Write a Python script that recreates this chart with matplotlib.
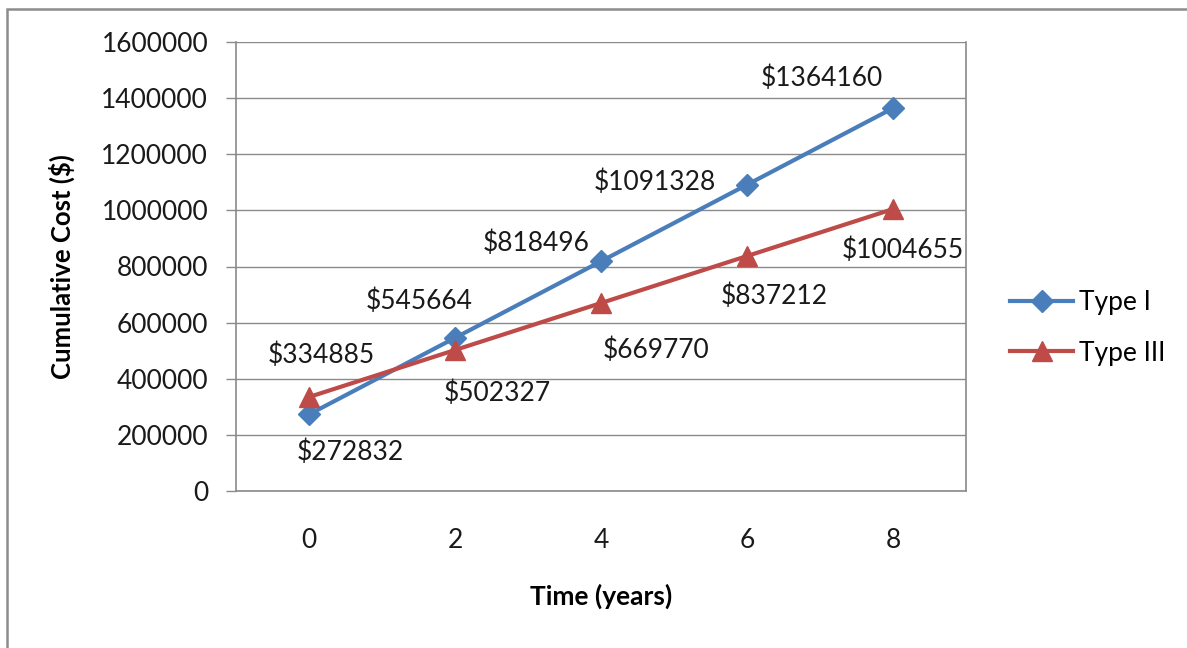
import matplotlib
matplotlib.use('Agg')
import matplotlib.pyplot as plt
from matplotlib.patches import Rectangle

plt.rcParams['font.family'] = ['Lato', 'DejaVu Sans']

# Cumulative cost data
years = [0, 2, 4, 6, 8]
type1_cost = [272832, 545664, 818496, 1091328, 1364160]
type3_cost = [334885, 502327, 669770, 837212, 1004655]
y_ticks = [0, 200000, 400000, 600000, 800000, 1000000, 1200000, 1400000, 1600000]

# label offsets (pixels) from each point
type1_off = [(41, -38), (-36, 37), (-65, 18), (-92, 2), (-71, 30)]
type3_off = [(12, 42), (42, -43), (55, -47), (27, -40), (10, -41)]

blue = '#4A7EBB'
red = '#BE4B48'
grid_col = '#8a8a8a'
fs = 19

fig = plt.figure(figsize=(11.87, 6.48), dpi=100)
ax = fig.add_axes([236/1187, 1 - 491/648, 730/1187, 449/648])

ax.plot(years, type1_cost, color=blue, lw=3, marker='D', markersize=11, label='Type I')
ax.plot(years, type3_cost, color=red, lw=3, marker='^', markersize=14, label='Type III')

for x, v, off in zip(years, type1_cost, type1_off):
    ax.annotate('$' + str(v), (x, v), xytext=off, textcoords='offset pixels',
                ha='center', va='center', fontsize=fs, color='#1a1a1a')
for x, v, off in zip(years, type3_cost, type3_off):
    ax.annotate('$' + str(v), (x, v), xytext=off, textcoords='offset pixels',
                ha='center', va='center', fontsize=fs, color='#1a1a1a')

ax.set_xlim(-1, 9)
ax.set_ylim(0, 1600000)
ax.set_xticks(years)
ax.set_yticks(y_ticks)
ax.set_yticklabels([str(t) for t in y_ticks])
ax.yaxis.grid(True, color=grid_col, lw=1)
ax.set_axisbelow(True)

ax.spines['top'].set_visible(False)
for side in ['left', 'bottom', 'right']:
    ax.spines[side].set_color(grid_col)
    ax.spines[side].set_linewidth(1.2)

ax.tick_params(axis='y', length=7, width=1, color=grid_col, pad=13, labelsize=fs, labelcolor='#1a1a1a')
ax.tick_params(axis='x', length=0, pad=27, labelsize=fs, labelcolor='#1a1a1a')

ax.set_ylabel('Cumulative Cost ($)', fontsize=18.5, fontweight='bold', labelpad=19)
ax.set_xlabel('Time (years)', fontsize=19, fontweight='bold', labelpad=22)

fig.legend(loc='center left', bbox_to_anchor=(1010/1187, 1 - 328/648), frameon=False,
           fontsize=fs, handlelength=2.4, handletextpad=0.2, labelspacing=0.95,
           borderpad=0, borderaxespad=0)

# outer chart frame
fig.add_artist(Rectangle((7/1187, -0.1), 1.2, 1.1 - 9/648, transform=fig.transFigure,
                         fill=False, edgecolor='#8c8c8c', lw=1.8))

fig.savefig('out.png', dpi=100)
